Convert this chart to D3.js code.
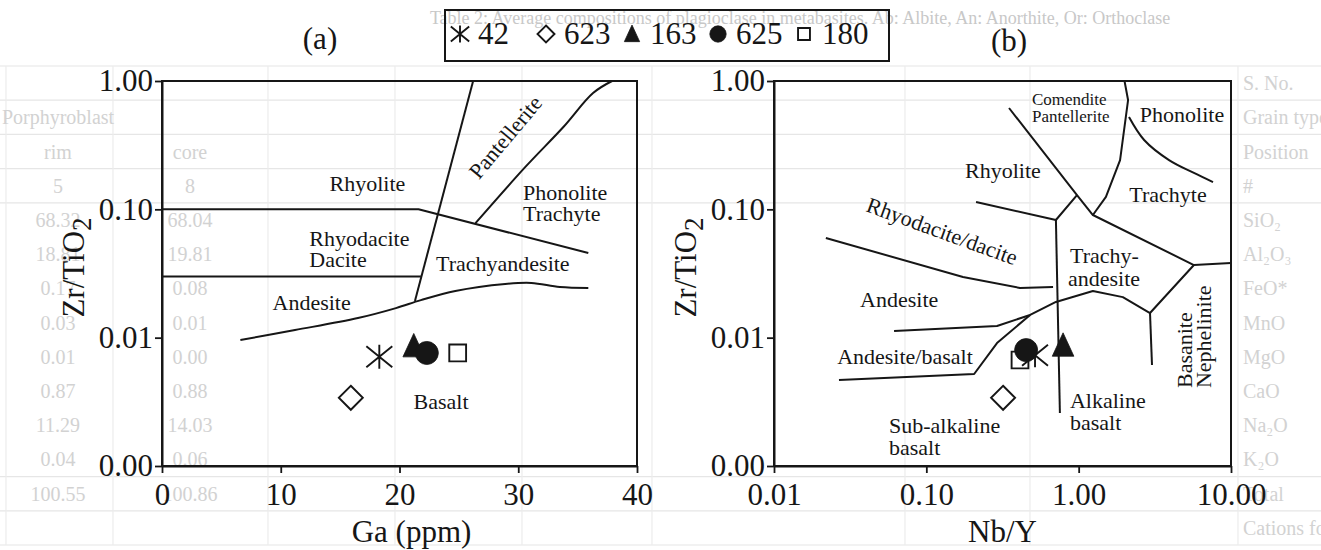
<!DOCTYPE html>
<html>
<head>
<meta charset="utf-8">
<script src="https://cdn.jsdelivr.net/npm/d3@7"></script>
<style>
  body { margin: 0; background: #fff; }
  svg { display: block; font-family: "Liberation Serif", "Times New Roman", serif; }
</style>
</head>
<body>
<svg id="fig" width="1321" height="550"></svg>
<script>
// ---- Samples (legend order) ----
const sampleIds    = ["42", "623", "163", "625", "180"];
const sampleShapes = ["asterisk", "diamond", "triangle", "circle", "square"];
const gaPpm        = [18.3, 15.9, 21.2, 22.3, 24.9];
const zrTiO2_vsGa  = [0.0071, 0.0034, 0.0086, 0.0076, 0.0076];
const nbY          = [0.517, 0.319, 0.79, 0.452, 0.412];
const zrTiO2_vsNb  = [0.0073, 0.0034, 0.0087, 0.0080, 0.0067];
const drawOrder    = [4, 0, 1, 2, 3];

// ---- Axis ticks ----
const zrTicks = [0.001, 0.01, 0.1, 1];
const gaTicks = [0, 10, 20, 30, 40];
const nbTicks = [0.01, 0.1, 1, 10];

// ---- Field boundaries, (a) Ga vs Zr/TiO2 ----
const gaStraightLines = [
  [[0, 0.1], [21.6, 0.1], [35.9, 0.0457]],
  [[0, 0.03], [21.8, 0.03]],
  [[26.2, 1], [21.3, 0.0193]]
];
const gaCurvedLines = [
  [[37.9, 1], [36.3, 0.806], [33.8, 0.438], [30.6, 0.214], [26.4, 0.078]],
  [[6.6, 0.00958], [11.2, 0.01146], [16.5, 0.01422], [19.7, 0.0170], [21.8, 0.0196],
   [24.7, 0.0231], [28.9, 0.0262], [31.1, 0.0267], [33.5, 0.0248], [35.9, 0.0244]]
];
const gaFieldLabels = [
  { text: "Rhyolite", x: 17.3, y: 0.160 },
  { text: "Rhyodacite", x: 12.4, y: 0.0598, anchor: "start" },
  { text: "Dacite", x: 12.4, y: 0.041, anchor: "start" },
  { text: "Trachyandesite", x: 28.7, y: 0.0382 },
  { text: "Phonolite", x: 30.4, y: 0.136, anchor: "start" },
  { text: "Trachyte", x: 30.4, y: 0.0936, anchor: "start" },
  { text: "Pantellerite", x: 28.9, y: 0.366, rotate: -50 },
  { text: "Andesite", x: 12.6, y: 0.019 },
  { text: "Basalt", x: 23.5, y: 0.00321 }
];

// ---- Field boundaries, (b) Nb/Y vs Zr/TiO2 ----
const nbStraightLines = [
  [[0.349, 0.616], [0.975, 0.129], [1.24, 0.0903], [5.71, 0.0368], [10, 0.0382]],
  [[2.0, 1], [2.11, 0.711], [1.87, 0.242], [1.51, 0.125], [1.24, 0.0903]],
  [[0.212, 0.114], [0.709, 0.0826], [0.975, 0.129]],
  [[0.709, 0.0826], [0.753, 0.00259]],
  [[0.0219, 0.0598], [0.174, 0.0297], [0.412, 0.0244], [0.679, 0.0248]],
  [[0.0614, 0.01127], [0.291, 0.01233], [0.480, 0.01503], [0.709, 0.01897], [1.24, 0.0231],
   [1.95, 0.0207], [2.94, 0.01556], [5.71, 0.0368]],
  [[0.0267, 0.00468], [0.206, 0.00521], [0.291, 0.00908], [0.480, 0.01503]],
  [[2.94, 0.01556], [3.03, 0.00612]]
];
const nbCurvedLines = [
  [[2.14, 0.524], [2.69, 0.347], [3.92, 0.242], [5.71, 0.192], [7.62, 0.163]]
];
const nbFieldLabels = [
  { text: "Comendite", x: 0.494, y: 0.724, anchor: "start", size: 17 },
  { text: "Pantellerite", x: 0.494, y: 0.534, anchor: "start", size: 17 },
  { text: "Phonolite", x: 4.77, y: 0.553 },
  { text: "Rhyolite", x: 0.318, y: 0.202 },
  { text: "Trachyte", x: 3.86, y: 0.132 },
  { text: "Rhyodacite/dacite", x: 0.127, y: 0.0678, rotate: 20 },
  { text: "Trachy-", x: 0.877, y: 0.0441, anchor: "start" },
  { text: "andesite", x: 0.851, y: 0.0292, anchor: "start" },
  { text: "Andesite", x: 0.0663, y: 0.0200 },
  { text: "Andesite/basalt", x: 0.0724, y: 0.00720 },
  { text: "Alkaline", x: 0.877, y: 0.00327, anchor: "start" },
  { text: "basalt", x: 0.877, y: 0.00220, anchor: "start" },
  { text: "Sub-alkaline", x: 0.0569, y: 0.00209, anchor: "start" },
  { text: "basalt", x: 0.0569, y: 0.00141, anchor: "start" },
  { text: "Basanite", x: 4.92, y: 0.00405, anchor: "start", rotate: -90 },
  { text: "Nephelinite", x: 6.55, y: 0.00405, anchor: "start", rotate: -90 }
];

// ---- Faint table printed on the page behind the figure ----
const tableTitle = "Table 2: Average compositions of plagioclase in metabasites. Ab: Albite, An: Anorthite, Or: Orthoclase";
const tableRowLabels = ["S. No.", "Grain type or Porphyroblast", "Position", "#", "SiO\u2082", "Al\u2082O\u2083",
  "FeO*", "MnO", "MgO", "CaO", "Na\u2082O", "K\u2082O", "Total", "Cations for 32 oxygens"];
const tableColA = ["", "Porphyroblast", "rim", "5", "68.32", "18.81", "0.17", "0.03", "0.01", "0.87", "11.29", "0.04", "100.55", ""];
const tableColB = ["", "", "core", "8", "68.04", "19.81", "0.08", "0.01", "0.00", "0.88", "14.03", "0.06", "100.86", ""];

// ---------------------------------------------------------------
const svg = d3.select("#fig");
const INK = "#161616";
const SERIF = "Liberation Serif, Times New Roman, serif";

// background table
(function drawTable() {
  const g = svg.append("g").attr("fill", "#d2d2d2").attr("font-size", 20);
  const rows = d3.scaleBand().domain(d3.range(tableRowLabels.length)).range([66, 545]);
  const lineYs = [0, 1, 2, 3, 4, 12, 13].map(i => rows(i)).concat([545]);
  g.selectAll("line.h").data(lineYs).join("line")
    .attr("x1", 0).attr("x2", 1321).attr("y1", d => d).attr("y2", d => d)
    .attr("stroke", "#e6e6e6").attr("stroke-width", 1.2);
  const colXs = [6, 113, 268, 395, 522, 652, 905, 1030, 1238];
  g.selectAll("line.v").data(colXs).join("line")
    .attr("x1", d => d).attr("x2", d => d).attr("y1", 66).attr("y2", 545)
    .attr("stroke", "#ececec").attr("stroke-width", 1.2);
  g.append("text").attr("x", 800).attr("y", 24).attr("text-anchor", "middle")
    .attr("font-size", 18).attr("fill", "#c8c8c8").text(tableTitle);
  g.selectAll("text.r").data(tableRowLabels).join("text")
    .attr("x", 1243).attr("y", (d, i) => rows(i) + rows.bandwidth() / 2).attr("dy", "0.35em").text(d => d);
  g.selectAll("text.a").data(tableColA).join("text")
    .attr("x", 58).attr("y", (d, i) => rows(i) + rows.bandwidth() / 2).attr("dy", "0.35em")
    .attr("text-anchor", "middle").text(d => d);
  g.selectAll("text.b").data(tableColB).join("text")
    .attr("x", 190).attr("y", (d, i) => rows(i) + rows.bandwidth() / 2).attr("dy", "0.35em")
    .attr("text-anchor", "middle").text(d => d);
})();

// marker shapes
function shapePath(shape, s) {
  const h = s / 2;
  switch (shape) {
    case "asterisk":
      return `M0,${-h}V${h}M${-h * 1.08},${-h * 0.88}L${h * 1.08},${h * 0.88}M${-h * 1.08},${h * 0.88}L${h * 1.08},${-h * 0.88}`;
    case "diamond":
      return `M0,${-h}L${h},0L0,${h}L${-h},0Z`;
    case "triangle":
      return `M0,${-h * 1.05}L${h * 0.9},${h * 0.9}L${-h * 0.9},${h * 0.9}Z`;
    case "circle": {
      const r = h * 0.96;
      return `M${r},0A${r},${r} 0 1,1 ${-r},0A${r},${r} 0 1,1 ${r},0Z`;
    }
    case "square": {
      const q = h * 0.7;
      return `M${-q},${-q}H${q}V${q}H${-q}Z`;
    }
  }
}
function styleShape(sel, shape) {
  const filled = shape === "triangle" || shape === "circle";
  sel.attr("fill", filled ? INK : (shape === "asterisk" ? "none" : "#fff"))
     .attr("stroke", INK)
     .attr("stroke-width", filled ? 0.8 : 1.9)
     .attr("stroke-linejoin", "miter");
}

function drawPanel(cfg) {
  const { x, y, box, xTicks, xFmt, xTitle, xTitleShift, title, straight, curved, labels, xs, ys } = cfg;
  const g = svg.append("g");

  const line = d3.line().x(d => x(d[0])).y(d => y(d[1]));
  const curve = d3.line().x(d => x(d[0])).y(d => y(d[1])).curve(d3.curveCatmullRom.alpha(0.5));
  g.selectAll("path.s").data(straight).join("path")
    .attr("d", line).attr("fill", "none").attr("stroke", INK).attr("stroke-width", 2).attr("stroke-linejoin", "round");
  g.selectAll("path.c").data(curved).join("path")
    .attr("d", curve).attr("fill", "none").attr("stroke", INK).attr("stroke-width", 2);

  // frame
  g.append("rect").attr("x", box.left).attr("y", box.top)
    .attr("width", box.right - box.left).attr("height", box.bottom - box.top)
    .attr("fill", "none").attr("stroke", INK).attr("stroke-width", 2);

  // axes
  const ax = g.append("g").attr("transform", `translate(0,${box.bottom})`)
    .call(d3.axisBottom(x).tickValues(xTicks).tickFormat(xFmt).tickSize(7).tickSizeOuter(0).tickPadding(10));
  const ay = g.append("g").attr("transform", `translate(${box.left},0)`)
    .call(d3.axisLeft(y).tickValues(zrTicks).tickFormat(d3.format(".2f")).tickSize(7).tickSizeOuter(0).tickPadding(2));
  [ax, ay].forEach(a => {
    a.attr("font-family", SERIF).attr("font-size", 31);
    a.select(".domain").attr("stroke", INK).attr("stroke-width", 2);
    a.selectAll(".tick line").attr("stroke", INK).attr("stroke-width", 1.8);
    a.selectAll(".tick text").attr("fill", INK);
  });

  // axis titles
  g.append("text").attr("x", (box.left + box.right) / 2 + xTitleShift).attr("y", 542)
    .attr("text-anchor", "middle").attr("font-size", 31).attr("fill", INK).text(xTitle);
  const yt = g.append("text")
    .attr("transform", `translate(${box.left - 89},${(box.top + box.bottom) / 2 - 6}) rotate(-90)`)
    .attr("text-anchor", "middle").attr("dy", "0.35em").attr("font-size", 31).attr("fill", INK);
  yt.append("tspan").text("Zr/TiO");
  yt.append("tspan").attr("font-size", 27).attr("dy", "0.28em").text("2");

  // panel letter
  g.append("text").attr("x", title.x).attr("y", title.y).attr("text-anchor", "middle")
    .attr("font-size", 31).attr("fill", INK).text(title.text);

  // field names
  g.selectAll("text.f").data(labels).join("text")
    .attr("transform", d => `translate(${x(d.x)},${y(d.y)}) rotate(${d.rotate || 0})`)
    .attr("text-anchor", d => d.anchor || "middle").attr("dy", "0.35em")
    .attr("font-size", d => d.size || 22).attr("fill", INK).text(d => d.text);

  // samples
  drawOrder.forEach(i => {
    const p = g.append("path").attr("d", shapePath(sampleShapes[i], 24))
      .attr("transform", `translate(${x(xs[i])},${y(ys[i])})`);
    styleShape(p, sampleShapes[i]);
  });
}

const boxA = { left: 162, right: 637, top: 81, bottom: 466 };
const boxB = { left: 774, right: 1231, top: 81, bottom: 466 };

drawPanel({
  x: d3.scaleLinear().domain([0, 40]).range([boxA.left, boxA.right]),
  y: d3.scaleLog().domain([0.001, 1]).range([boxA.bottom, boxA.top]),
  box: boxA, xTicks: gaTicks, xFmt: d3.format("d"), xTitle: "Ga (ppm)", xTitleShift: 12,
  title: { text: "(a)", x: 320, y: 49 },
  straight: gaStraightLines, curved: gaCurvedLines, labels: gaFieldLabels,
  xs: gaPpm, ys: zrTiO2_vsGa
});
drawPanel({
  x: d3.scaleLog().domain([0.01, 10]).range([boxB.left, boxB.right]),
  y: d3.scaleLog().domain([0.001, 1]).range([boxB.bottom, boxB.top]),
  box: boxB, xTicks: nbTicks, xFmt: d3.format(".2f"), xTitle: "Nb/Y", xTitleShift: 0,
  title: { text: "(b)", x: 1009, y: 51 },
  straight: nbStraightLines, curved: nbCurvedLines, labels: nbFieldLabels,
  xs: nbY, ys: zrTiO2_vsNb
});

// legend
(function drawLegend() {
  const g = svg.append("g");
  g.append("rect").attr("x", 445).attr("y", 10).attr("width", 444).attr("height", 51)
    .attr("fill", "none").attr("stroke", INK).attr("stroke-width", 2);
  const pos = d3.scalePoint().domain(sampleIds).range([460, 804]);
  sampleIds.forEach((id, i) => {
    const cx = pos(id);
    const p = g.append("path").attr("d", shapePath(sampleShapes[i], 17)).attr("transform", `translate(${cx},34)`);
    styleShape(p, sampleShapes[i]);
    g.append("text").attr("x", cx + 18).attr("y", 44).attr("font-size", 31).attr("fill", INK).text(id);
  });
})();
</script>
</body>
</html>
